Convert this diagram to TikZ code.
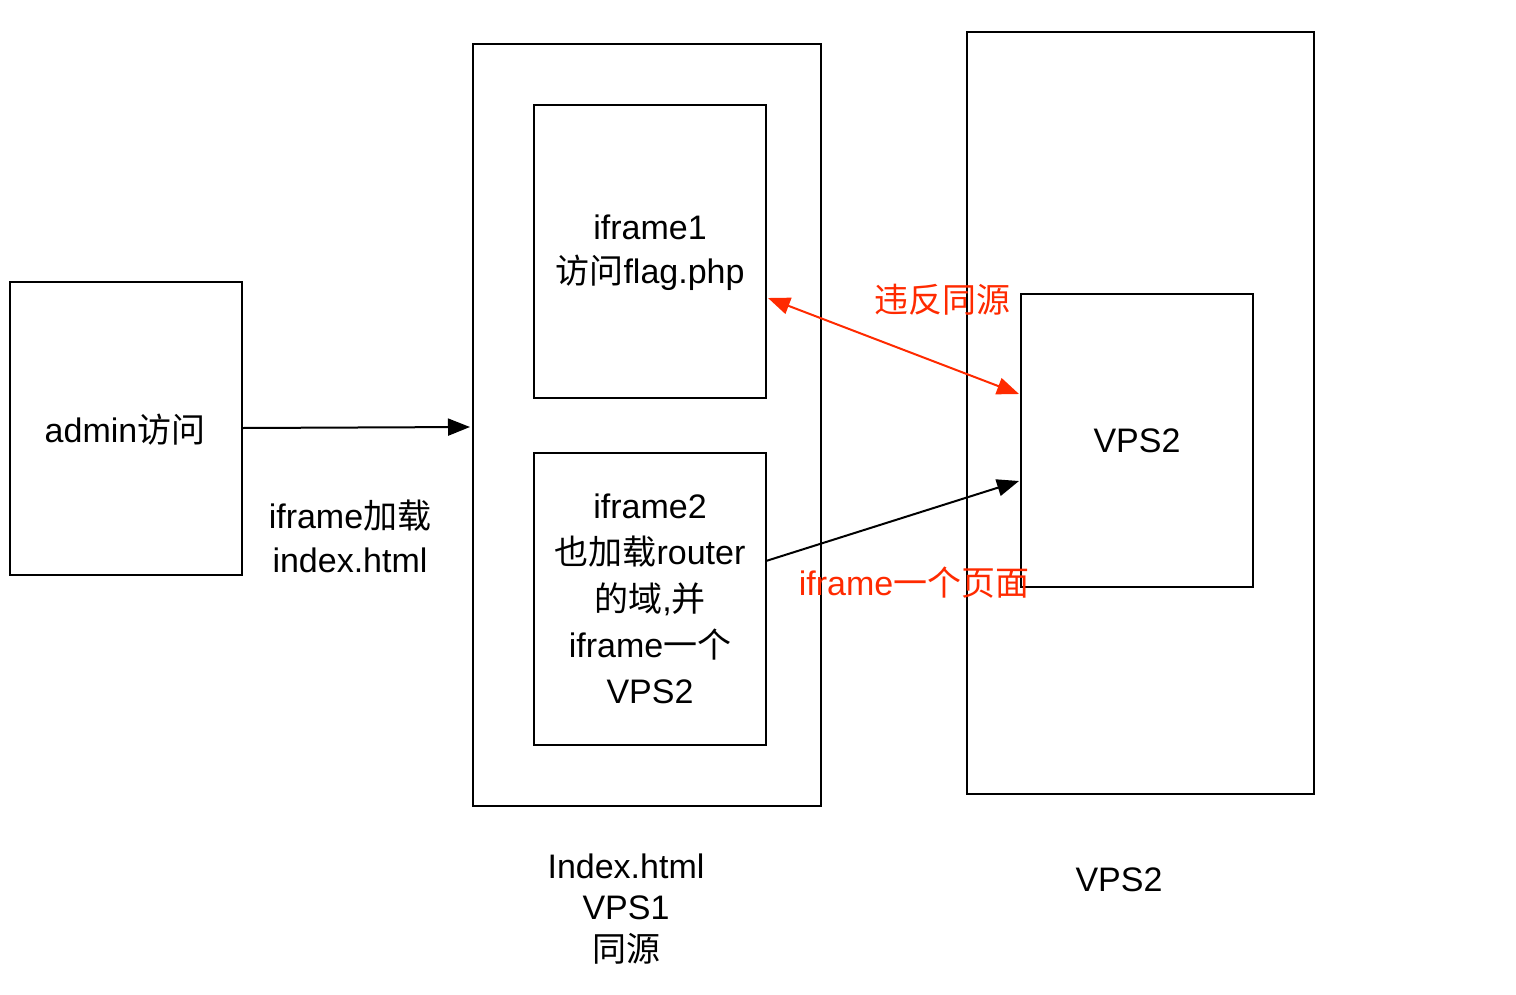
\documentclass[tikz,border=0pt]{standalone}
\usepackage{fontspec}
\setmainfont{Liberation Sans}
\newfontfamily\cjk{Noto Sans CJK SC}
\usetikzlibrary{arrows.meta}
\definecolor{myred}{HTML}{FF2A00}
\begin{document}
\begin{tikzpicture}[x=1pt,y=-1pt,
  box/.style={draw=black,line width=2pt},
  lbl/.style={font=\fontsize{34}{46}\selectfont,align=center,inner sep=0pt},
  arr/.style={line width=2pt,-{Triangle[length=22pt,width=17pt]}},
  redtxt/.style={lbl,text=myred}]
\useasboundingbox (0,0) rectangle (1516,994);
% boxes
\draw[box] (10,282) rectangle (242,575);
\node[lbl] (admin) at (125,430) {admin{\cjk 访问}};
\coordinate (adminE) at (242,428);
\draw[box] (473,44) rectangle (821,806);
\coordinate (indexW) at (470,427);
\draw[box] (534,105) rectangle (766,398);
\node[lbl,font=\fontsize{34}{44}\selectfont] (if1) at (650,253) {iframe1\\{\cjk 访问}flag.php};
\draw[box] (534,453) rectangle (766,745);
\node[lbl,font=\fontsize{34}{46.3}\selectfont] (if2) at (650,599) {iframe2\\{\cjk 也加载}router\\{\cjk 的域},{\cjk 并}\\iframe{\cjk 一个}\\VPS2};
\draw[box] (967,32) rectangle (1314,794);
\draw[box] (1021,294) rectangle (1253,587);
\node[lbl] (vps2in) at (1137,441) {VPS2};
% labels
\node[lbl,font=\fontsize{34}{44}\selectfont] (load) at (350,536) {iframe{\cjk 加载}\\index.html};
\node[lbl,font=\fontsize{34}{41.5}\selectfont] (vps1) at (626,909) {Index.html\\VPS1\\{\cjk 同源}};
\node[lbl] (vps2) at (1119,880) {VPS2};
\node[redtxt] (viol) at (942,300) {\cjk 违反同源};
\node[redtxt] (page) at (914,583) {iframe{\cjk 一个页面}};
% connectors
\coordinate (if1E) at (768,298);
\coordinate (vpsA) at (1019,394);
\coordinate (if2E) at (766,561);
\coordinate (vpsB) at (1019,481);
\draw[arr] (adminE) -- (indexW);
\draw[arr,myred,{Triangle[length=22pt,width=17pt]}-{Triangle[length=22pt,width=17pt]}] (if1E) -- (vpsA);
\draw[arr] (if2E) -- (vpsB);
\end{tikzpicture}
\end{document}
